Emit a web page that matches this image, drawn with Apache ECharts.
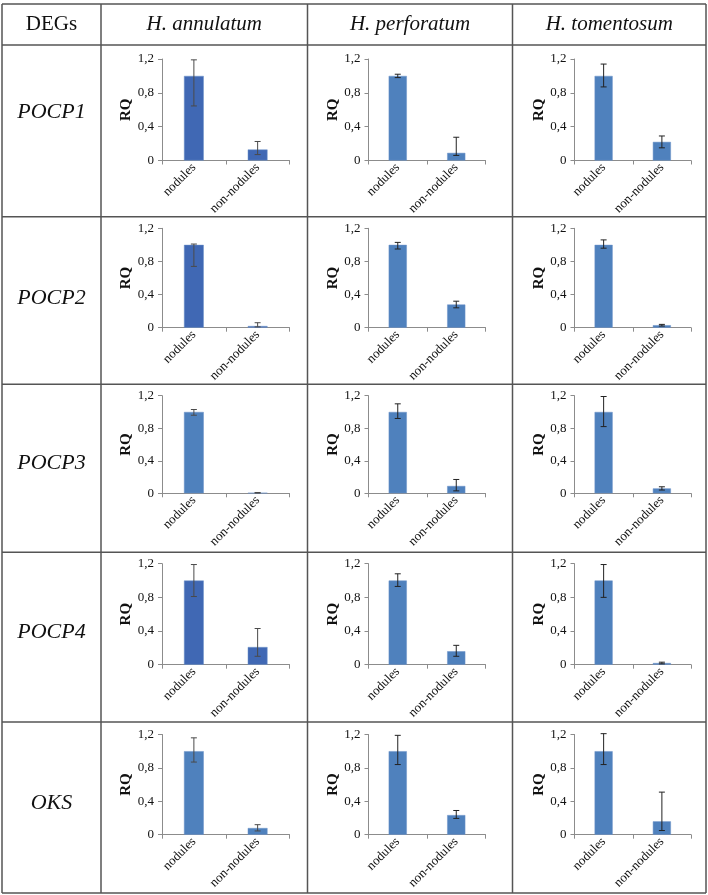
<!DOCTYPE html>
<html>
<head>
<meta charset="utf-8">
<script src="https://cdn.jsdelivr.net/npm/echarts@6/dist/echarts.min.js"></script>
<style>
  html, body { margin: 0; padding: 0; background: #fff; }
  #chart { width: 708px; height: 895px; }
</style>
</head>
<body>
<div id="chart"></div>
<script>
// data
const genes = ["POCP1", "POCP2", "POCP3", "POCP4", "OKS"];
const species = ["H. annulatum", "H. perforatum", "H. tomentosum"];
const categories = ["nodules", "non-nodules"];

// RQ values per gene: [nodules, non-nodules]
const annulatumRQ = [[1, 0.13], [1, 0.02], [1, 0.005], [1, 0.21], [1, 0.08]];
const annulatumLow = [[0.645, 0.07], [0.74, 0.01], [0.96, 0.003], [0.81, 0.1], [0.87, 0.045]];
const annulatumHigh = [[1.19, 0.225], [1.01, 0.06], [1.03, 0.01], [1.19, 0.43], [1.16, 0.12]];

const perforatumRQ = [[1, 0.09], [1, 0.28], [1, 0.09], [1, 0.16], [1, 0.235]];
const perforatumLow = [[0.98, 0.06], [0.95, 0.24], [0.92, 0.03], [0.93, 0.1], [0.84, 0.195]];
const perforatumHigh = [[1.02, 0.275], [1.03, 0.32], [1.1, 0.17], [1.08, 0.23], [1.19, 0.29]];

const tomentosumRQ = [[1, 0.22], [1, 0.03], [1, 0.06], [1, 0.02], [1, 0.16]];
const tomentosumLow = [[0.87, 0.15], [0.96, 0.02], [0.82, 0.04], [0.8, 0.01], [0.84, 0.05]];
const tomentosumHigh = [[1.14, 0.29], [1.06, 0.04], [1.19, 0.08], [1.19, 0.03], [1.21, 0.51]];

const yMax = 1.2;
const yStep = 0.4;

// table layout (px)
const colX = [2, 101, 307.5, 512.5, 706];
const rowY = [4, 45, 216.7, 384.3, 552.3, 722, 893];
const plotLeftOff = [61, 61, 62];
const plotRightOff = [18, 27, 15];
const plotTop = [59, 228.3, 395.7, 563.7, 734.5];
const plotZero = [160.5, 327.7, 493.3, 664.7, 834.7];
const labelY = [112, 298, 463, 632, 803];

const serif = "'Liberation Serif', 'DejaVu Serif', serif";
const rqBySpecies = [annulatumRQ, perforatumRQ, tomentosumRQ];
const lowBySpecies = [annulatumLow, perforatumLow, tomentosumLow];
const highBySpecies = [annulatumHigh, perforatumHigh, tomentosumHigh];

function barColor(s, g) {
  // the annulatum panels for POCP1, POCP2, POCP4 are a darker blue
  if (s === 0 && g !== 2 && g !== 4) return "#4068b4";
  return "#4f81bd";
}

function errRender(color) {
  return function (params, api) {
    const x = api.value(0);
    const lo = api.coord([x, api.value(1)]);
    const hi = api.coord([x, api.value(2)]);
    const cap = 3;
    const st = { stroke: color, lineWidth: 1 };
    return {
      type: "group",
      children: [
        { type: "line", shape: { x1: lo[0], y1: lo[1], x2: hi[0], y2: hi[1] }, style: st },
        { type: "line", shape: { x1: hi[0] - cap, y1: hi[1], x2: hi[0] + cap, y2: hi[1] }, style: st },
        { type: "line", shape: { x1: lo[0] - cap, y1: lo[1], x2: lo[0] + cap, y2: lo[1] }, style: st },
      ],
    };
  };
}

const grids = [], xAxes = [], yAxes = [], series = [];
genes.forEach((gene, g) => {
  species.forEach((sp, s) => {
    const idx = grids.length;
    const left = colX[s + 1] + plotLeftOff[s];
    const right = colX[s + 2] - plotRightOff[s];
    grids.push({
      left: left,
      top: plotTop[g],
      width: right - left,
      height: plotZero[g] - plotTop[g],
    });
    xAxes.push({
      type: "category",
      gridIndex: idx,
      data: categories,
      axisLine: { lineStyle: { color: "#8c8c8c", width: 1 } },
      axisTick: { show: true, length: 4, lineStyle: { color: "#8c8c8c" } },
      axisLabel: {
        rotate: 45,
        margin: 5,
        fontFamily: serif,
        fontSize: 13,
        color: "#111",
        interval: 0,
      },
    });
    yAxes.push({
      type: "value",
      gridIndex: idx,
      min: 0,
      max: yMax,
      interval: yStep,
      name: "RQ",
      nameLocation: "middle",
      nameGap: 28,
      nameTextStyle: { fontFamily: serif, fontSize: 15, fontWeight: "bold", color: "#111" },
      splitLine: { show: false },
      axisLine: { show: true, lineStyle: { color: "#8c8c8c", width: 1 } },
      axisTick: { show: true, length: 4, lineStyle: { color: "#8c8c8c" } },
      axisLabel: {
        fontFamily: serif,
        fontSize: 13,
        color: "#111",
        margin: 8,
        formatter: (v) => String(Math.round(v * 10) / 10).replace(".", ","),
      },
    });
    series.push({
      type: "bar",
      xAxisIndex: idx,
      yAxisIndex: idx,
      barWidth: "31%",
      data: rqBySpecies[s][g],
      itemStyle: { color: barColor(s, g), borderColor: "#6d93c9", borderWidth: 0.5 },
      silent: true,
    });
    series.push({
      type: "custom",
      xAxisIndex: idx,
      yAxisIndex: idx,
      renderItem: errRender(s === 0 ? "#4a4a4a" : "#222"),
      encode: { x: 0, y: [1, 2] },
      data: categories.map((c, i) => [i, lowBySpecies[s][g][i], highBySpecies[s][g][i]]),
      z: 5,
      silent: true,
    });
  });
});

// table rules and headings
const graphic = [];
const ruleStyle = { stroke: "#555", lineWidth: 1.5 };
colX.forEach((x) => {
  graphic.push({ type: "line", shape: { x1: x, y1: rowY[0], x2: x, y2: rowY[rowY.length - 1] }, style: ruleStyle });
});
rowY.forEach((y) => {
  graphic.push({ type: "line", shape: { x1: colX[0], y1: y, x2: colX[colX.length - 1], y2: y }, style: ruleStyle });
});
graphic.push({
  type: "text",
  x: (colX[0] + colX[1]) / 2,
  y: (rowY[0] + rowY[1]) / 2,
  style: { text: "DEGs", fontFamily: serif, fontSize: 21, fill: "#111", align: "center", verticalAlign: "middle" },
});
species.forEach((sp, s) => {
  graphic.push({
    type: "text",
    x: (colX[s + 1] + colX[s + 2]) / 2,
    y: (rowY[0] + rowY[1]) / 2,
    style: { text: sp, fontFamily: serif, fontStyle: "italic", fontSize: 21, fill: "#111", align: "center", verticalAlign: "middle" },
  });
});
genes.forEach((gene, g) => {
  graphic.push({
    type: "text",
    x: (colX[0] + colX[1]) / 2,
    y: labelY[g],
    style: { text: gene, fontFamily: serif, fontStyle: "italic", fontSize: 22, fill: "#111", align: "center", verticalAlign: "middle" },
  });
});

const chart = echarts.init(document.getElementById("chart"), null, { renderer: "canvas" });
chart.setOption({
  backgroundColor: "#fff",
  animation: false,
  grid: grids,
  xAxis: xAxes,
  yAxis: yAxes,
  series: series,
  graphic: graphic,
});
</script>
</body>
</html>
